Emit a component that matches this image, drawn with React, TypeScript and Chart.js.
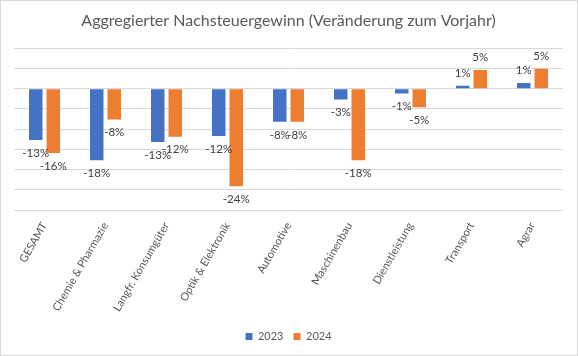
import React, { useEffect, useRef } from "react";
import { Chart, registerables } from "chart.js";

Chart.register(...registerables);

const categories = [
  "GESAMT",
  "Chemie & Pharmazie",
  "Langfr. Konsumgüter",
  "Optik & Elektronik",
  "Automotive",
  "Maschinenbau",
  "Dienstleistung",
  "Transport",
  "Agrar",
];
const values2023 = [-12.7, -17.7, -13.2, -11.7, -8.2, -2.7, -1.2, 0.7, 1.4];
const values2024 = [-15.9, -7.6, -11.9, -24.1, -8.2, -17.7, -4.6, 4.6, 4.9];
const seriesNames = ["2023", "2024"];
const yMin = -30;
const yMax = 10;
const yStep = 5;

const FONT = "Lato";

const labelPlugin = {
  id: "barLabels",
  afterDatasetsDraw(chart: any) {
    const ctx = chart.ctx;
    ctx.save();
    ctx.font = `11.5px ${FONT}`;
    ctx.fillStyle = "#404040";
    ctx.textAlign = "center";
    ctx.textBaseline = "middle";
    chart.data.datasets.forEach((ds: any, i: number) => {
      const meta = chart.getDatasetMeta(i);
      meta.data.forEach((bar: any, j: number) => {
        const v = ds.data[j] as number;
        const text = Math.round(v) + "%";
        const y = v < 0 ? bar.y + 13 : bar.y - 13;
        ctx.fillText(text, bar.x, y);
      });
    });
    ctx.restore();
  },
};

export default function App() {
  const ref = useRef<HTMLCanvasElement>(null);
  useEffect(() => {
    if (!ref.current) return;
    const chart = new Chart(ref.current, {
      type: "bar",
      data: {
        labels: categories,
        datasets: [
          {
            label: seriesNames[0],
            data: values2023,
            backgroundColor: "#4472C4",
            borderWidth: 0,
            barPercentage: 0.77,
            categoryPercentage: 0.574,
          },
          {
            label: seriesNames[1],
            data: values2024,
            backgroundColor: "#ED7D31",
            borderWidth: 0,
            barPercentage: 0.77,
            categoryPercentage: 0.574,
          },
        ],
      },
      plugins: [labelPlugin],
      options: {
        responsive: false,
        animation: false,
        maintainAspectRatio: false,
        layout: { padding: { top: 7, left: 14, right: 15, bottom: 4 } },
        plugins: {
          title: {
            display: true,
            text: "Aggregierter Nachsteuergewinn (Veränderung zum Vorjahr)",
            color: "#595959",
            font: { family: FONT, size: 16, weight: "normal" },
            padding: { top: 4, bottom: 18 },
          },
          legend: {
            position: "bottom",
            labels: {
              boxWidth: 7,
              boxHeight: 7,
              color: "#595959",
              font: { family: FONT, size: 11 },
              padding: 10,
            },
          },
          tooltip: { enabled: false },
        },
        scales: {
          x: {
            grid: { display: false, drawTicks: false },
            border: { display: false },
            ticks: {
              color: "#595959",
              font: { family: FONT, size: 11 },
              maxRotation: 60,
              minRotation: 60,
              padding: 10,
              autoSkip: false,
            },
            afterFit(scale: any) {
              scale.height = 111;
            },
          },
          y: {
            min: yMin,
            max: yMax,
            ticks: { display: false, stepSize: yStep },
            grid: { color: "#D9D9D9", drawTicks: false },
            border: { display: false },
            afterFit(scale: any) {
              scale.width = 0;
            },
          },
        },
      },
    });
    return () => chart.destroy();
  }, []);
  return (
    <div
      style={{
        position: "fixed",
        left: 0,
        top: 0,
        width: 578,
        height: 356,
        background: "#fff",
      }}
    >
      <canvas ref={ref} width={578} height={356} style={{ position: "absolute", left: 0, top: 0 }} />
      <div
        style={{
          position: "absolute",
          left: 0,
          top: 0,
          width: 578,
          height: 356,
          boxSizing: "border-box",
          border: "1px solid #D9D9D9",
          pointerEvents: "none",
        }}
      />
    </div>
  );
}
